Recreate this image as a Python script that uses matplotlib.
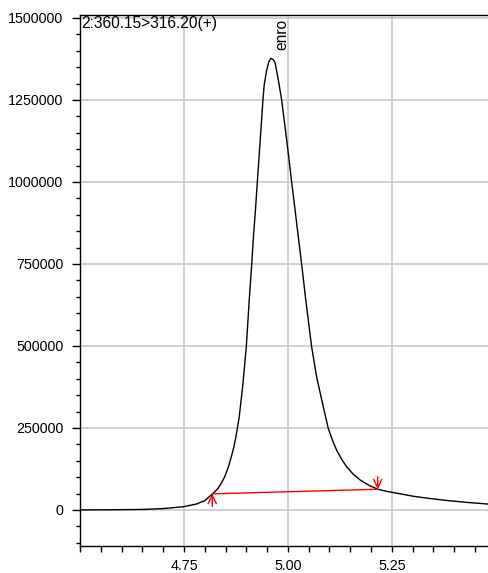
import matplotlib
matplotlib.use("Agg")
import matplotlib.pyplot as plt
from matplotlib.ticker import MultipleLocator, FixedLocator

plt.rcParams['font.family'] = ['Liberation Sans', 'DejaVu Sans']

# Chromatogram trace (retention time, intensity)
rt = [4.50, 4.55, 4.60, 4.65, 4.70, 4.75, 4.78, 4.80, 4.816, 4.824, 4.832, 4.840, 4.848,
      4.856, 4.864, 4.870, 4.875, 4.883, 4.892, 4.900, 4.907, 4.913, 4.917, 4.922, 4.9265,
      4.929, 4.9345, 4.940, 4.943, 4.949, 4.954, 4.959, 4.964, 4.969, 4.977, 4.985, 4.993,
      5.001, 5.009, 5.017, 5.025, 5.033, 5.043, 5.057, 5.069, 5.085, 5.097, 5.107, 5.117,
      5.129, 5.141, 5.157, 5.174, 5.195, 5.216, 5.240, 5.262, 5.30, 5.334, 5.38, 5.43, 5.49]
intensity = [0, 300, 800, 1500, 4000, 10000, 18000, 28000, 46000, 55000, 66000, 82000, 101000,
             128000, 162000, 192000, 223000, 284000, 386000, 498000, 640000, 750000, 830000, 915000, 1000000,
             1047000, 1148000, 1250000, 1296000, 1341000, 1366000, 1377000, 1374000, 1365000, 1311000, 1250000, 1169000,
             1087000, 1000000, 917000, 833000, 750000, 640000, 498000, 406000, 315000, 249000, 213000, 183000,
             155000, 132000, 109000, 91000, 75000, 63000, 56000, 51000, 42000, 36000, 29000, 23000, 17000]

# Integration baseline (start / end)
base_rt = [4.818, 5.216]
base_int = [49000, 63000]

title = "2:360.15>316.20(+)"
peak_label = "enro"
peak_label_rt = 4.985
x_major = [4.75, 5.00, 5.25]
x_labels = ["4.75", "5.00", "5.25"]
y_major = [0, 250000, 500000, 750000, 1000000, 1250000, 1500000]

fig = plt.figure(figsize=(4.89, 5.73), dpi=100)
ax = fig.add_axes([80/489, 27/573, 1 - 80/489 + 0.002, (546-15)/573])

ax.plot(rt, intensity, color='black', lw=1.0, zorder=3, solid_joinstyle='round')
ax.plot(base_rt, base_int, color='red', lw=1.0, zorder=4)
# start / end arrows
ax.annotate('', xy=(base_rt[0], base_int[0]), xytext=(base_rt[0], base_int[0] - 38000),
            arrowprops=dict(arrowstyle='->', color='red', lw=1.0, mutation_scale=15, shrinkA=0, shrinkB=0), zorder=4)
ax.annotate('', xy=(base_rt[1], base_int[1]), xytext=(base_rt[1], base_int[1] + 38000),
            arrowprops=dict(arrowstyle='->', color='red', lw=1.0, mutation_scale=15, shrinkA=0, shrinkB=0), zorder=4)

ax.set_xlim(4.5, 5.486)
ax.set_ylim(-110000, 1509000)

ax.xaxis.set_major_locator(FixedLocator(x_major))
ax.set_xticklabels(x_labels)
ax.xaxis.set_minor_locator(MultipleLocator(0.05))
ax.yaxis.set_major_locator(FixedLocator(y_major))
ax.set_yticklabels([str(v) for v in y_major])
ax.yaxis.set_minor_locator(MultipleLocator(50000))

ax.tick_params(axis='y', which='major', length=6, width=1, direction='out', pad=6.0, labelsize=10.3)
ax.tick_params(axis='y', which='minor', length=3, width=1, direction='out')
ax.tick_params(axis='x', which='both', length=4, width=1, direction='out', pad=5.0, labelsize=10.3)

ax.grid(True, which='major', color='#c8c8c8', lw=1.2)
ax.set_axisbelow(True)
for s in ['left', 'bottom', 'top']:
    ax.spines[s].set_color('black')
    ax.spines[s].set_linewidth(1.0)
ax.spines['right'].set_visible(False)

ax.text(0.002, 0.999, title, transform=ax.transAxes, ha='left', va='top', fontsize=11.2, zorder=5)
ax.text(peak_label_rt, 1402000, peak_label, rotation=90, ha='center', va='bottom', fontsize=11.2, clip_on=True)

fig.savefig("out.png", dpi=100)
